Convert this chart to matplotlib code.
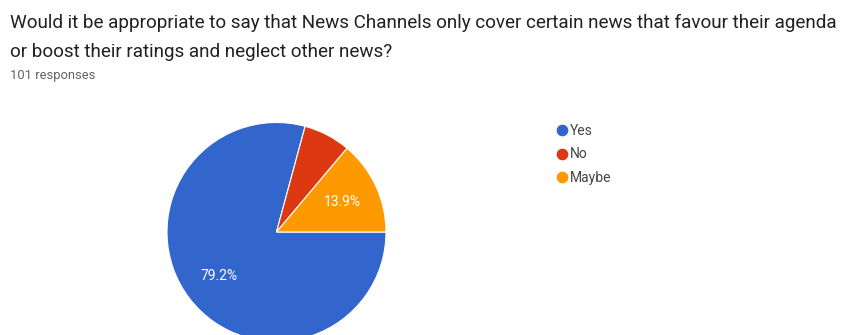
import matplotlib
matplotlib.use("Agg")
import matplotlib.pyplot as plt
from matplotlib.lines import Line2D

plt.rcParams['font.family'] = ['Roboto', 'DejaVu Sans']

question_lines = [
    "Would it be appropriate to say that News Channels only cover certain news that favour their agenda",
    "or boost their ratings and neglect other news?",
]
responses = "101 responses"
answers = ["Yes", "No", "Maybe"]
counts = [80, 7, 14]
colors = ["#3366CC", "#DC3912", "#FF9900"]

W, H = 851, 335
fig = plt.figure(figsize=(W / 100, H / 100), dpi=100)
fig.patch.set_facecolor("white")


def px(x, y):
    """Pixel position from the top-left corner -> figure fraction."""
    return x / W, 1 - y / H


# Question header
for i, line in enumerate(question_lines):
    fig.text(*px(10, 28 + 29 * i), line, fontsize=13.6, color="#202124",
             va="baseline", ha="left")
fig.text(*px(10, 79), responses, fontsize=9.3, color="#5f6368",
         va="baseline", ha="left")

# Pie placed by pixel centre and radius
cx, cy, r = 276.5, 232, 109.5
ax = fig.add_axes([(cx - r) / W, (H - cy - r) / H, 2 * r / W, 2 * r / H])


def fmt(p):
    return f"{p:.1f}%" if p >= 10 else ""


wedges, _, autotexts = ax.pie(
    counts, colors=colors, startangle=0, counterclock=False, radius=1,
    autopct=fmt, pctdistance=0.66,
    wedgeprops=dict(edgecolor="white", linewidth=0.8),
    textprops=dict(color="white", fontsize=10),
)
for w in wedges:
    w.set_clip_on(False)
ax.set_xlim(-1, 1)
ax.set_ylim(-1, 1)
ax.set_aspect("equal")
ax.axis("off")

# Legend: coloured dots with labels
for i, (name, c) in enumerate(zip(answers, colors)):
    y = 130 + 23.5 * i
    fig.add_artist(Line2D([562 / W], [1 - y / H], transform=fig.transFigure,
                          marker="o", linestyle="", markersize=7.4,
                          markerfacecolor=c, markeredgecolor=c))
    fig.text(*px(570, y + 4.6), name, fontsize=10, color="#444444",
             va="baseline", ha="left")

fig.savefig("out.png", dpi=100, facecolor="white")
